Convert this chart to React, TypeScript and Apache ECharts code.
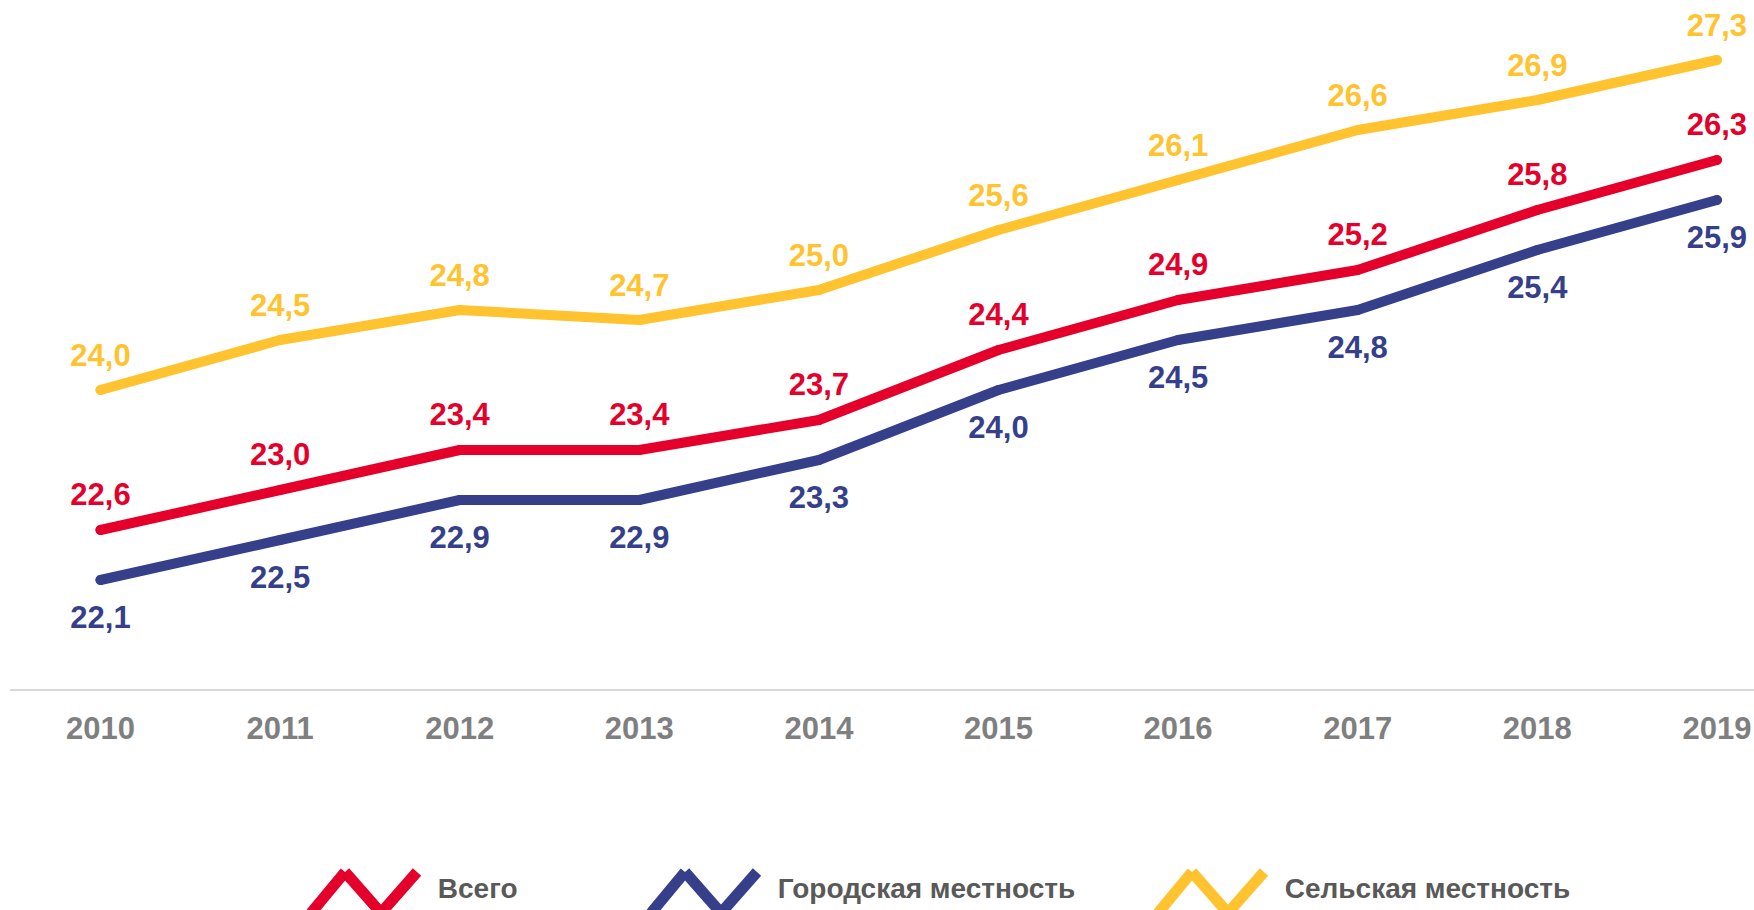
import React, { useEffect, useRef } from 'react';
import * as echarts from 'echarts';

const years = ['2010', '2011', '2012', '2013', '2014', '2015', '2016', '2017', '2018', '2019'];
const totalValues = [22.6, 23.0, 23.4, 23.4, 23.7, 24.4, 24.9, 25.2, 25.8, 26.3];
const urbanValues = [22.1, 22.5, 22.9, 22.9, 23.3, 24.0, 24.5, 24.8, 25.4, 25.9];
const ruralValues = [24.0, 24.5, 24.8, 24.7, 25.0, 25.6, 26.1, 26.6, 26.9, 27.3];
const seriesNames = ['Всего', 'Городская местность', 'Сельская местность'];
const seriesColors = ['#E4002B', '#353F8A', '#FFC32F'];
const legendLefts = [307, 647, 1154];

const FONT = '"Liberation Sans", Arial, sans-serif';

function buildZigzag() {
  const pts = [[4, 50], [38, 9], [74, 50], [110, 9]];
  const h = 5.5;
  const quads: number[][][] = [];
  for (let i = 0; i < pts.length - 1; i++) {
    const p = pts[i];
    const q = pts[i + 1];
    const dx = q[0] - p[0];
    const dy = q[1] - p[1];
    const len = Math.sqrt(dx * dx + dy * dy);
    const nx = (-dy / len) * h;
    const ny = (dx / len) * h;
    quads.push([
      [p[0] + nx, p[1] + ny],
      [q[0] + nx, q[1] + ny],
      [q[0] - nx, q[1] - ny],
      [p[0] - nx, p[1] - ny],
    ]);
  }
  let minX = Infinity, minY = Infinity, maxX = -Infinity, maxY = -Infinity;
  quads.forEach((qd) => qd.forEach(([x, y]) => {
    minX = Math.min(minX, x); minY = Math.min(minY, y);
    maxX = Math.max(maxX, x); maxY = Math.max(maxY, y);
  }));
  // extend the box upward with a zero-area marker so the legend text sits a bit higher
  const extra = 7;
  minY -= extra;
  let d = `M0,0L0.01,0Z`;
  quads.forEach((qd) => {
    d += 'M' + qd.map(([x, y]) => `${(x - minX).toFixed(2)},${(y - minY).toFixed(2)}`).join('L') + 'Z';
  });
  return { d, minX, minY, w: maxX - minX, h: maxY - minY };
}

const fmt = (p: any) => Number(p.value).toFixed(1).replace('.', ',');

export default function App() {
  const ref = useRef<HTMLDivElement>(null);
  useEffect(() => {
    if (!ref.current) return;
    const chart = echarts.init(ref.current, null, { renderer: 'svg' });
    const zz = buildZigzag();
    const dataSets = [totalValues, urbanValues, ruralValues];
    const labelPos = ['top', 'bottom', 'top'];
    const labelDist = [15, 17, 14];

    const series = dataSets.map((vals, i) => ({
      name: seriesNames[i],
      type: 'line',
      data: vals,
      symbol: 'circle',
      symbolSize: 10,
      showSymbol: true,
      z: i === 2 ? 1 : i === 0 ? 3 : 2,
      itemStyle: { color: seriesColors[i], borderWidth: 0 },
      lineStyle: { color: seriesColors[i], width: 10, cap: 'round', join: 'round' },
      label: {
        show: true,
        position: labelPos[i],
        distance: labelDist[i],
        formatter: fmt,
        color: seriesColors[i],
        fontSize: 31,
        fontWeight: 'bold',
        fontFamily: FONT,
      },
      emphasis: { disabled: true },
    }));

    const legends = seriesNames.map((name, i) => ({
      data: [name],
      left: legendLefts[i] + zz.minX,
      top: 863 + zz.minY,
      padding: 0,
      itemWidth: zz.w,
      itemHeight: zz.h,
      icon: 'path://' + zz.d,
      itemStyle: { color: seriesColors[i], borderWidth: 0 },
      selectedMode: false,
      textStyle: {
        color: '#595959',
        fontSize: 28,
        fontWeight: 'bold',
        fontFamily: FONT,
        padding: [0, 0, 0, 131 - 5 - zz.w],
      },
    }));

    chart.setOption({
      animation: false,
      backgroundColor: '#ffffff',
      grid: {
        left: 10.7,
        width: 1796,
        top: 0,
        height: 690,
        containLabel: false,
        outerBoundsMode: 'none',
      },
      xAxis: {
        type: 'category',
        data: years,
        boundaryGap: true,
        axisTick: { show: false },
        axisLine: { show: true, lineStyle: { color: '#D9D9D9', width: 2 } },
        axisLabel: {
          color: '#7F7F7F',
          fontSize: 31,
          fontWeight: 'bold',
          fontFamily: FONT,
          margin: 23,
          interval: 0,
        },
      },
      yAxis: {
        type: 'value',
        min: 21,
        max: 27.9,
        show: false,
        splitLine: { show: false },
      },
      legend: legends,
      series,
    });
    return () => chart.dispose();
  }, []);
  return (
    <div
      ref={ref}
      style={{ position: 'fixed', left: 0, top: 0, width: 1754, height: 910, background: '#fff' }}
    />
  );
}
